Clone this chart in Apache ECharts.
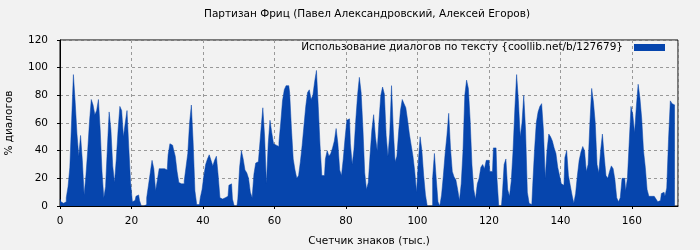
<!DOCTYPE html>
<html><head><meta charset="utf-8">
<script src="https://cdn.jsdelivr.net/npm/echarts@6/dist/echarts.min.js"></script>
<style>html,body{margin:0;padding:0;background:#f2f2f2}#c{width:700px;height:250px}</style>
</head><body><div id="c"></div>
<script>
const titleText = 'Партизан Фриц (Павел Александровский, Алексей Егоров)';
const seriesName = 'Использование диалогов по тексту {coollib.net/b/127679}';
const xAxisName = 'Счетчик знаков (тыс.)';
const yAxisName = '% диалогов';
const xStep = 0.5; // thousand characters between samples
const usage = [
 5,3,2,3,6,14,28,62,95,75, 52,36,51,33,8,22,40,61,77,73, 66,69,77,55,25,6,14,42,68,55,
 29,17,34,55,72,69,50,60,69,42, 17,3,4,7,8,4,0,0,1,6, 15,24,33,27,11,19,27,27,27,
 26,26,37,45,44,41,36,25,17,16, 16,18,28,38,60,73,46,11,1,1, 6,12,22,30,34,37,33,29,33,36,
 22,6,5,6,6,7,15,16,5,0, 0,5,28,40,34,26,24,20,10,6, 23,31,32,40,56,71,50,
 16,45,62,53,45,44,43,46,60,76, 84,87,87,82,56,34,26,20,22,32, 44,58,72,82,84,77,80,90,98,72,
 44,22,22,34,40,36,38,42,47,56, 45,26,22,34,49,62,63,45,30,41, 62,80,93,82,56,24,12,17,37,55, 66,
 50,40,62,80,86,81,51,36,52,87, 55,32,36,54,69,77,74,71,62,52, 44,36,25,10,32,50,40,22,8,0,
 0,0,20,38,20,3,0,8,22,38, 51,67,42,25,21,19,12,4,16,40, 80,91,85,62,30,12,5,16,20,
 28,30,27,33,33,25,25,42,42,20, 0,0,8,30,34,12,7,18,40,70, 95,76,50,60,80,55,10,2,1,15,
 40,60,68,72,74,55,20,40,52,50, 47,42,38,28,22,16,15,35,40,22, 15,8,2,9,22,33,39,43,
 40,25,30,60,85,75,60,30,24,40, 52,36,22,20,25,29,27,19,6,3, 6,20,20,11,20,46,72,66,53,72,
 88,78,63,40,28,12,7,7,7,6, 5,3,4,9,10,7,13,48,76,74, 73
];
const xMin = 0, xMax = 172.9, xInterval = 20;
const yMin = 0, yMax = 120, yInterval = 20;

const data = usage.map((v, i) => [i * xStep, v]);
const font = 'DejaVu Sans';
const fs = 10.5;
const chart = echarts.init(document.getElementById('c'), null, {renderer: 'canvas'});
chart.setOption({
  backgroundColor: '#f2f2f2',
  animation: false,
  textStyle: {fontFamily: font},
  title: {
    text: titleText, left: 204, top: 9, padding: 0,
    textStyle: {fontFamily: font, fontSize: fs, fontWeight: 'normal', color: '#000'}
  },
  legend: {
    show: true, right: 35, top: 42, padding: 0, align: 'right', icon: 'rect',
    itemWidth: 31, itemHeight: 7,
    textStyle: {fontFamily: font, fontSize: fs, color: '#000', padding: [0, 6, 0, 0]},
    data: [seriesName]
  },
  grid: {left: 60, right: 22, top: 40, bottom: 44, containLabel: false, outerBoundsMode: 'none',
    show: true, borderColor: '#000', borderWidth: 1, backgroundColor: '#f2f2f2'},
  xAxis: {
    type: 'value', min: xMin, max: xMax, interval: xInterval,
    name: xAxisName, nameLocation: 'middle', nameGap: 30,
    nameTextStyle: {fontFamily: font, fontSize: fs, color: '#000'},
    axisLine: {show: true, lineStyle: {color: '#000'}},
    axisTick: {show: true, length: 3, lineStyle: {color: '#000'}},
    axisLabel: {fontFamily: font, fontSize: fs, color: '#000', margin: 10, showMaxLabel: false},
    splitLine: {show: true, lineStyle: {color: '#999', type: [3, 3], width: 1}}
  },
  yAxis: {
    type: 'value', min: yMin, max: yMax, interval: yInterval,
    name: yAxisName, nameLocation: 'middle', nameGap: 45, nameRotate: 90,
    nameTextStyle: {fontFamily: font, fontSize: fs, color: '#000'},
    axisLine: {show: true, lineStyle: {color: '#000'}},
    axisTick: {show: true, length: 3, lineStyle: {color: '#000'}},
    axisLabel: {fontFamily: font, fontSize: fs, color: '#000', margin: 12},
    splitLine: {show: true, lineStyle: {color: '#999', type: [3, 3], width: 1}}
  },
  series: [{
    name: seriesName, type: 'line', data: data, showSymbol: false, symbol: 'none',
    step: 'middle',
    itemStyle: {color: '#0645ad'},
    lineStyle: {color: '#0645ad', width: 0.5},
    areaStyle: {color: '#0645ad', opacity: 1}
  }]
});
</script></body></html>
